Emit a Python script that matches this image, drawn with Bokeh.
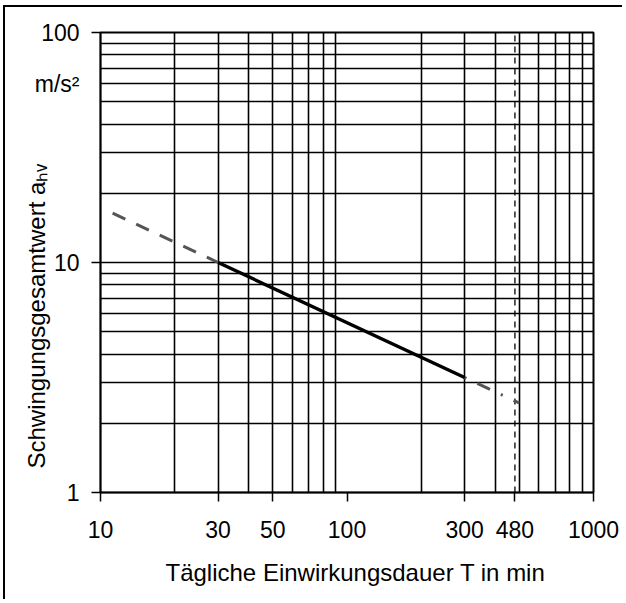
from bokeh.plotting import figure
from bokeh.models import FixedTicker, Range1d, LogAxis, Title
from bokeh.embed import file_html
from bokeh.resources import INLINE

# ---- data ----
x_ticks = [10, 30, 50, 100, 300, 480, 1000]
y_ticks = [1, 10, 100]
x_grid = [20, 30, 40, 50, 60, 70, 80, 90, 200, 300, 400, 500, 600, 700, 800, 900]
y_grid = [2, 3, 4, 5, 6, 7, 8, 9, 10, 20, 30, 40, 50, 60, 70, 80, 90]
T_solid = [30, 300]
a_solid = [10.0, 3.16]
T_dash_left = [11.2, 30]
a_dash_left = [16.4, 10.0]
T_dash_right = [300, 500]
a_dash_right = [3.16, 2.45]
T_ref = [480]
a_ref_lo = [1]
a_ref_hi = [100]
unit_at = 60  # where the unit text sits on the value scale

x_title = "Tägliche Einwirkungsdauer T in min"
y_title = "Schwingungsgesamtwert aₕᵥ"
unit = "m/s²"

FONT = "Liberation Sans"

W, H = 619, 594
BL, BT = 95, 25
FW, FH = 493, 462

p = figure(width=W, height=H, x_axis_type="log", y_axis_type="log",
           x_range=Range1d(10, 1000), y_range=Range1d(1, 100),
           output_backend="svg", toolbar_location=None, title=None,
           min_border_left=BL, min_border_top=BT,
           min_border_right=W - BL - FW, min_border_bottom=H - BT - FH)
p.styles = {"margin-left": "3px", "margin-top": "5px",
            "border-left": "2px solid black", "border-top": "2px solid black"}
p.background_fill_color = "white"
p.border_fill_color = "white"
p.outline_line_color = "black"
p.outline_line_width = 2

# grid
p.xgrid.ticker = FixedTicker(ticks=x_grid)
p.ygrid.ticker = FixedTicker(ticks=y_grid)
for g in (p.xgrid, p.ygrid):
    g.grid_line_color = "black"
    g.grid_line_width = 1.6
    g.grid_line_alpha = 1.0

# bottom axis
xa = p.xaxis[0]
xa.ticker = FixedTicker(ticks=x_ticks)
xa.major_label_overrides = {t: str(t) for t in x_ticks}
xa.major_label_standoff = 19

# inner left axis: tick marks only
ya = p.yaxis[0]
ya.ticker = FixedTicker(ticks=y_ticks)
ya.major_label_overrides = {t: "" for t in y_ticks}
ya.major_label_standoff = 0

for ax in (xa, ya):
    ax.major_label_text_font = FONT
    ax.major_label_text_font_size = "23px"
    ax.major_label_text_color = "black"
    ax.major_tick_in = 0
    ax.major_tick_out = 9
    ax.major_tick_line_color = "black"
    ax.major_tick_line_width = 1.5
    ax.minor_tick_line_color = None
    ax.axis_line_color = "black"
    ax.axis_line_width = 1.5

# outer left axis: the labels, incl. the unit
lab_ticks = y_ticks + [unit_at]
ya2 = LogAxis(ticker=FixedTicker(ticks=lab_ticks),
              major_label_overrides={**{t: str(t) for t in y_ticks}, unit_at: unit},
              major_label_text_font=FONT, major_label_text_font_size="23px",
              major_label_text_color="black", major_label_standoff=6,
              major_tick_line_color=None, minor_tick_line_color=None,
              axis_line_color=None)
p.add_layout(ya2, "left")

# axis titles
p.add_layout(Title(text=y_title, align="left", offset=24, standoff=-36,
                   text_font=FONT, text_font_size="24px",
                   text_font_style="normal", text_color="black"), "left")
p.add_layout(Title(text=x_title, align="left", offset=65, standoff=32,
                   text_font=FONT, text_font_size="24px",
                   text_font_style="normal", text_color="black"), "below")

# reference line at 480 min
p.segment(x0=T_ref, y0=a_ref_lo, x1=T_ref, y1=a_ref_hi,
          line_color="black", line_width=1.3, line_dash="6 5")

# curves
p.line(T_dash_left, a_dash_left, line_color="#555555", line_width=3, line_dash="14 12")
p.line(T_dash_right, a_dash_right, line_color="#555555", line_width=3, line_dash="2 12 14 12")
p.line(T_solid, a_solid, line_color="black", line_width=3.4)

open("out.html", "w").write(file_html(p, INLINE))
